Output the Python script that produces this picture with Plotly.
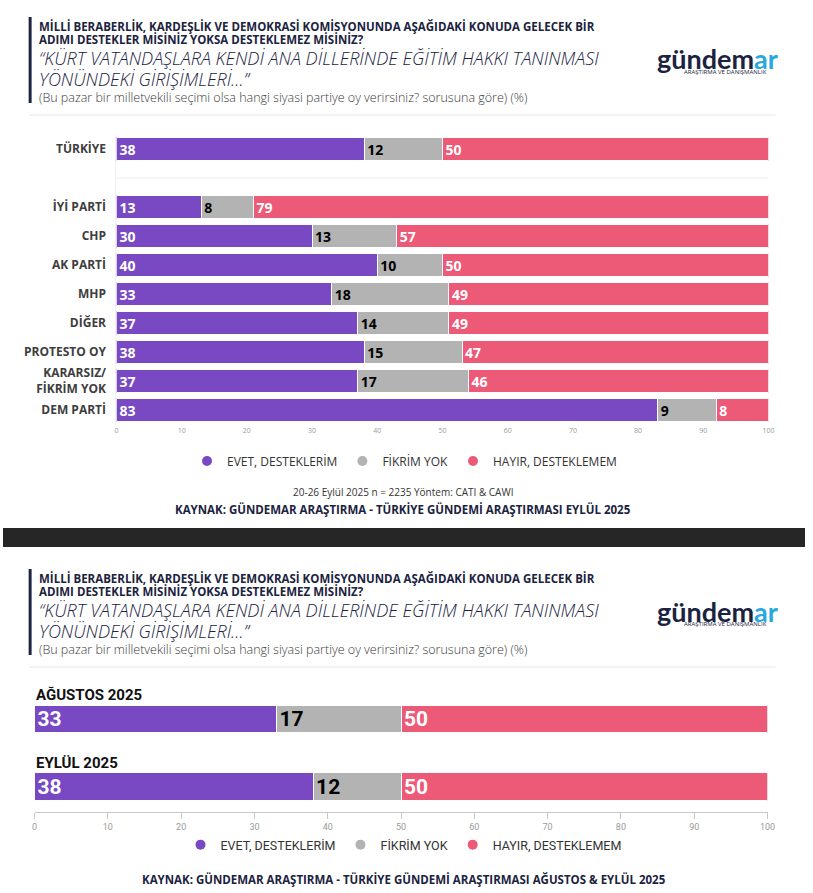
import plotly.graph_objects as go

W, H = 813, 893

# ---------------- DATA ----------------
top_categories = ["TÜRKİYE", "İYİ PARTİ", "CHP", "AK PARTİ", "MHP", "DİĞER",
                  "PROTESTO OY", "KARARSIZ/<br>FİKRİM YOK", "DEM PARTİ"]
top_evet = [38, 13, 30, 40, 33, 37, 38, 37, 83]
top_fikrim = [12, 8, 13, 10, 18, 14, 15, 17, 9]
top_hayir = [50, 79, 57, 50, 49, 49, 47, 46, 8]

bottom_categories = ["AĞUSTOS 2025", "EYLÜL 2025"]
bottom_evet = [33, 38]
bottom_fikrim = [17, 12]
bottom_hayir = [50, 50]

series_names = ["EVET, DESTEKLERİM", "FİKRİM YOK", "HAYIR, DESTEKLEMEM"]
x_ticks = [0, 10, 20, 30, 40, 50, 60, 70, 80, 90, 100]

title_line1 = "MİLLİ BERABERLİK, KARDEŞLİK VE DEMOKRASİ KOMİSYONUNDA AŞAĞIDAKİ KONUDA GELECEK BİR"
title_line2 = "ADIMI DESTEKLER MİSİNİZ YOKSA DESTEKLEMEZ MİSİNİZ?"
quote_line1 = "“KÜRT VATANDAŞLARA KENDİ ANA DİLLERİNDE EĞİTİM HAKKI TANINMASI"
quote_line2 = "YÖNÜNDEKİ GİRİŞİMLERİ…”"
subtitle = "(Bu pazar bir milletvekili seçimi olsa hangi siyasi partiye oy verirsiniz? sorusuna göre) (%)"
top_note = "20-26 Eylül 2025 n = 2235 Yöntem: CATI & CAWI"
top_source = "KAYNAK: GÜNDEMAR ARAŞTIRMA - TÜRKİYE GÜNDEMİ ARAŞTIRMASI EYLÜL 2025"
bottom_source = "KAYNAK: GÜNDEMAR ARAŞTIRMA - TÜRKİYE GÜNDEMİ ARAŞTIRMASI AĞUSTOS & EYLÜL 2025"

# ---------------- STYLE ----------------
COLORS = ["#7849C2", "#B3B3B3", "#EC5A78"]
TEXT_COLORS = ["white", "black", "white"]
NAVY = "#1B2340"
FONT = "Open Sans, Lato, sans-serif"
NARROW = "Roboto, Liberation Sans Narrow, sans-serif"


def px(x):
    return x / W


def py(y):
    return 1 - y / H


# positions: TÜRKİYE, one empty slot, then the parties
top_pos = [0] + [i + 2 for i in range(len(top_categories) - 1)]
bottom_pos = list(range(len(bottom_categories)))

fig = go.Figure()

top_series = [top_evet, top_fikrim, top_hayir]
bottom_series = [bottom_evet, bottom_fikrim, bottom_hayir]

for k in range(3):
    fig.add_trace(go.Bar(
        x=top_series[k], y=top_pos, orientation="h", width=0.8,
        marker=dict(color=COLORS[k], line=dict(color="white", width=1)),
        text=top_series[k], textposition="inside", insidetextanchor="start",
        constraintext="none", textangle=0,
        textfont=dict(family=FONT, size=14, color=TEXT_COLORS[k], weight="bold"),
        xaxis="x", yaxis="y", showlegend=False, hoverinfo="skip",
    ))
    fig.add_trace(go.Bar(
        x=bottom_series[k], y=bottom_pos, orientation="h", width=0.41,
        marker=dict(color=COLORS[k], line=dict(color="white", width=1)),
        text=bottom_series[k], textposition="inside", insidetextanchor="start",
        constraintext="none", textangle=0,
        textfont=dict(family=NARROW, size=21, color=TEXT_COLORS[k], weight="bold"),
        xaxis="x2", yaxis="y2", showlegend=False, hoverinfo="skip",
    ))

# legend entries (circle markers)
for k in range(3):
    fig.add_trace(go.Scatter(
        x=[None], y=[None], mode="markers", name=series_names[k],
        marker=dict(color=COLORS[k], size=10, symbol="circle"),
        xaxis="x", yaxis="y", legend="legend", showlegend=True,
    ))
    fig.add_trace(go.Scatter(
        x=[None], y=[None], mode="markers", name=series_names[k],
        marker=dict(color=COLORS[k], size=10, symbol="circle"),
        xaxis="x2", yaxis="y2", legend="legend2", showlegend=True,
    ))

fig.update_layout(
    width=W, height=H, autosize=False,
    margin=dict(l=0, r=0, t=0, b=0, pad=0),
    paper_bgcolor="white", plot_bgcolor="white",
    barmode="stack",
    xaxis=dict(domain=[px(115), px(776)], range=[0, 100], tickvals=x_ticks,
               tickfont=dict(family=FONT, size=7, color="#9a9a9a"),
               showgrid=False, zeroline=False, showline=False, ticks="",
               anchor="y", fixedrange=True),
    yaxis=dict(domain=[py(424.5), py(134.5)], range=[9.5, -0.5],
               tickvals=top_pos, ticktext=top_categories,
               tickfont=dict(family=FONT, size=12, color="#3d3d3d", weight="bold"),
               ticklabelstandoff=7,
               showgrid=False, zeroline=False, showline=True, linecolor="#f0f0f0",
               ticks="", anchor="x", fixedrange=True),
    xaxis2=dict(domain=[px(32), px(775)], range=[0, 100], tickvals=x_ticks,
                tickfont=dict(family=NARROW, size=9, color="#9a9a9a"),
                showgrid=False, zeroline=False, showline=True, linecolor="#c8c8c8",
                linewidth=1, ticks="outside", ticklen=6, tickcolor="#c8c8c8",
                anchor="y2", fixedrange=True),
    yaxis2=dict(domain=[py(812), py(685)], range=[1.37, -0.5],
                showticklabels=False, showgrid=False, zeroline=False,
                showline=False, ticks="", anchor="x2", fixedrange=True),
    legend=dict(orientation="h", x=px(407), xanchor="center", y=py(461),
                yanchor="middle", font=dict(family=FONT, size=12, color="#333333"),
                itemwidth=30, bgcolor="rgba(0,0,0,0)", traceorder="normal"),
    legend2=dict(orientation="h", x=px(406), xanchor="center", y=py(845),
                 yanchor="middle", font=dict(family=NARROW, size=12.5, color="#333333"),
                 itemwidth=30, bgcolor="rgba(0,0,0,0)", traceorder="normal"),
)

shapes = []
annotations = []


def header(off):
    lines_y = [26 + off, 39.5 + off, 58 + off, 79 + off, 97 + off]
    shapes.append(dict(type="rect", xref="paper", yref="paper",
                       x0=px(26), x1=px(29), y0=py(103 + off), y1=py(17 + off),
                       fillcolor=NAVY, line=dict(width=0)))
    shapes.append(dict(type="line", xref="paper", yref="paper",
                       x0=px(27), x1=px(783), y0=py(115 + off), y1=py(115 + off),
                       line=dict(color="#e6e6e6", width=1)))
    specs = [
        (title_line1, dict(family=FONT, size=11.5, color=NAVY, weight="bold")),
        (title_line2, dict(family=FONT, size=11.5, color=NAVY, weight="bold")),
        (quote_line1, dict(family=FONT, size=18, color=NAVY, style="italic", weight=300)),
        (quote_line2, dict(family=FONT, size=18, color=NAVY, style="italic", weight=300)),
        (subtitle, dict(family=FONT, size=12.5, color="#3a3a3a", weight=300)),
    ]
    for (txt, fnt), yy in zip(specs, lines_y):
        annotations.append(dict(text=txt, xref="paper", yref="paper",
                                x=px(35), y=py(yy), xanchor="left", yanchor="middle",
                                showarrow=False, font=fnt, borderpad=0))
    annotations.append(dict(
        text="gündem<span style='color:#29A8E0'>ar</span>",
        xref="paper", yref="paper", x=px(724), y=py(59 + off), xanchor="center",
        yanchor="middle", showarrow=False, borderpad=0,
        font=dict(family="Lato, Open Sans, sans-serif", size=27, color=NAVY, weight="bold")))
    annotations.append(dict(
        text="ARAŞTIRMA VE DANIŞMANLIK", xref="paper", yref="paper",
        x=px(732), y=py(72 + off), xanchor="center", yanchor="middle",
        showarrow=False, borderpad=0, font=dict(family=FONT, size=6, color=NAVY)))


header(0)
header(552)

# separator between TÜRKİYE and party rows
shapes.append(dict(type="line", xref="x", yref="y", x0=-0.3, x1=100, y0=1, y1=1,
                   line=dict(color="#ececec", width=1)))

# dark band between panels
shapes.append(dict(type="rect", xref="paper", yref="paper", x0=0, x1=1,
                   y0=py(547), y1=py(528), fillcolor="#262626", line=dict(width=0)))

# bottom panel category labels above the bars
for cat, pos in zip(bottom_categories, bottom_pos):
    annotations.append(dict(text=cat, xref="paper", yref="y2", x=px(32), y=pos,
                            xanchor="left", yanchor="bottom", yshift=14,
                            showarrow=False, borderpad=0,
                            font=dict(family=NARROW, size=15, color="#111111", weight="bold")))

annotations.append(dict(text=top_note, xref="paper", yref="paper", x=px(405), y=py(492),
                        xanchor="center", yanchor="middle", showarrow=False, borderpad=0,
                        font=dict(family=FONT, size=10, color="#333333")))
annotations.append(dict(text=top_source, xref="paper", yref="paper", x=px(405), y=py(509),
                        xanchor="center", yanchor="middle", showarrow=False, borderpad=0,
                        font=dict(family=FONT, size=11.5, color=NAVY, weight="bold")))
annotations.append(dict(text=bottom_source, xref="paper", yref="paper", x=px(406), y=py(879),
                        xanchor="center", yanchor="middle", showarrow=False, borderpad=0,
                        font=dict(family=FONT, size=11.5, color=NAVY, weight="bold")))

fig.update_layout(shapes=shapes, annotations=annotations)
fig.write_html(
    "out.html",
    config={"displayModeBar": False, "staticPlot": True},
    post_script=(
        "document.documentElement.style.margin='0';"
        "document.documentElement.style.overflow='hidden';"
        "document.body.style.margin='0';"
        "document.body.style.overflow='hidden';"
        "var d=document.getElementById('{plot_id}');"
        "d.style.position='fixed';d.style.top='0px';d.style.left='0px';"
    ),
)
